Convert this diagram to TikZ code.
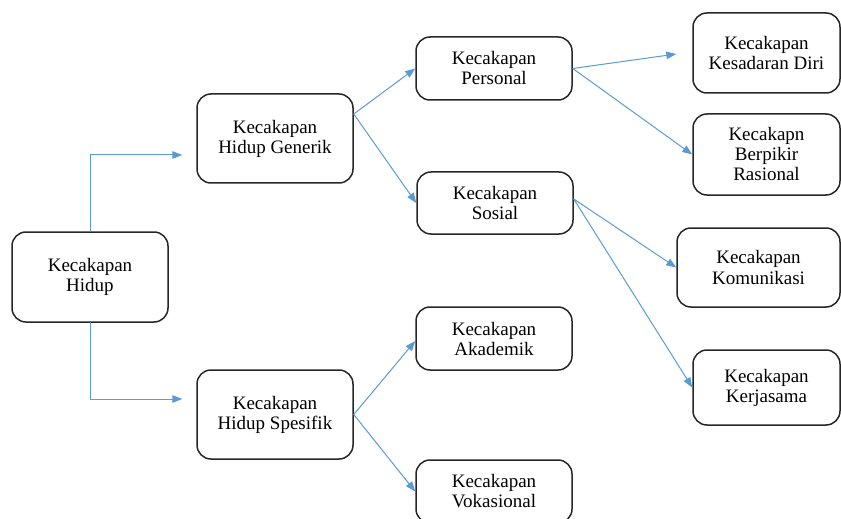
\documentclass[tikz,border=0pt]{standalone}
\usepackage{fontspec}
\setmainfont{Liberation Serif}
\usetikzlibrary{arrows.meta,calc}
\definecolor{linkblue}{RGB}{91,155,213}
\definecolor{boxline}{RGB}{38,38,38}

\begin{document}
\begin{tikzpicture}[x=0.5pt,y=-0.5pt,>={Triangle[length=5pt,width=3.8pt]},line cap=round,line join=round,
  box/.style={draw=boxline,line width=0.75pt,rounded corners=7pt,align=center,inner sep=0pt,minimum width=78pt,font=\fontsize{9.5}{10}\selectfont},
  link/.style={->,color=linkblue,line width=0.5pt}]
\useasboundingbox (0,0) rectangle (841,519);
\clip (0,0) rectangle (841,519);
% left column
\node[box,minimum height=45pt] (hidup) at (90,277) {Kecakapan\\Hidup};
\node[box,minimum height=44.5pt] (gen) at (275,138.5) {Kecakapan\\Hidup Generik};
\node[box,minimum height=44.5pt] (spe) at (275,414.5) {Kecakapan\\Hidup Spesifik};
% middle column
\node[box,minimum height=31.5pt] (pers) at (494,68.5) {Kecakapan\\Personal};
\node[box,minimum height=31pt] (sos) at (495,203) {Kecakapan\\Sosial};
\node[box,minimum height=31.5pt] (aka) at (494,338.5) {Kecakapan\\Akademik};
\node[box,minimum height=31.5pt] (vok) at (494,491.5) {Kecakapan\\Vokasional};
% right column
\node[box,minimum width=73.5pt,minimum height=40pt] (kes) at (766.5,53) {Kecakapan\\Kesadaran Diri};
\node[box,minimum width=73.5pt,minimum height=40.5pt] (ber) at (766.5,154.5) {Kecakapn\\Berpikir\\Rasional};
\node[box,minimum width=81.5pt,minimum height=39.5pt] (kom) at (758.5,267.5) {Kecakapan\\Komunikasi};
\node[box,minimum width=73.5pt,minimum height=37.5pt] (ker) at (766.5,387.5) {Kecakapan\\Kerjasama};
% connectors
\draw[link] (hidup.north) |- ($(gen.west)+(-14,16.5)$);
\draw[link] (hidup.south) |- ($(spe.west)+(-14,-15.5)$);
\draw[link] ($(gen.east)+(0,-24.5)$) -- (pers.west);
\draw[link] ($(gen.east)+(0,-24.5)$) -- (sos.west);
\draw[link] (pers.east) -- ($(kes.west)+(-16,1)$);
\draw[link] (pers.east) -- (ber.west);
\draw[link] ($(sos.east)+(0,-4)$) -- (kom.west);
\draw[link] ($(sos.east)+(0,-4)$) -- (ker.west);
\draw[link] (spe.east) -- ($(aka.west)+(0,2.5)$);
\draw[link] (spe.east) -- (vok.west);
\end{tikzpicture}
\end{document}
